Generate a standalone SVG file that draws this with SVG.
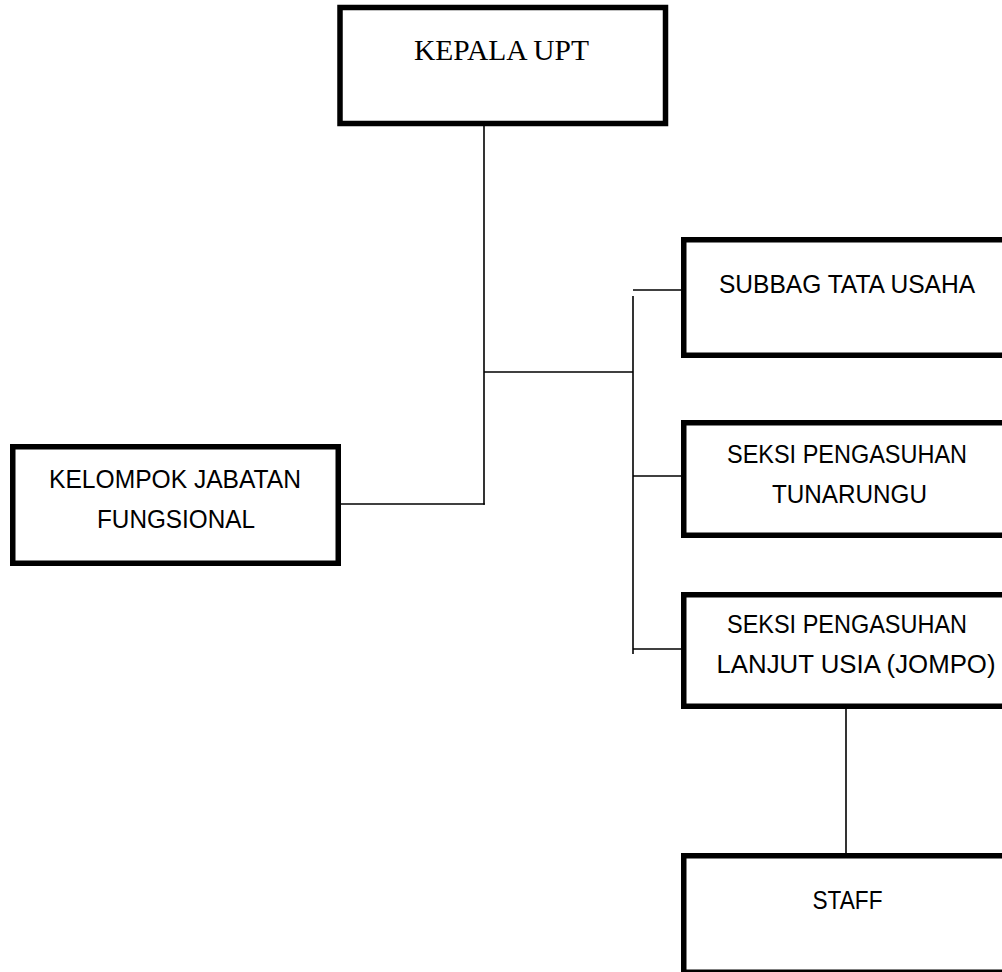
<svg xmlns="http://www.w3.org/2000/svg" width="1002" height="972" viewBox="0 0 1002 972">
<style>
.box{fill:#fff;stroke:#000;stroke-width:5.5}
.ln{stroke:#000;stroke-width:1.6;fill:none}
.sans{font-family:"Liberation Sans",Arial,sans-serif;font-size:25px;fill:#000;text-anchor:middle}
.serif{font-family:"Liberation Serif","Times New Roman",serif;font-size:29.5px;fill:#000;text-anchor:middle}
</style>
<rect width="1002" height="972" fill="#fff"/>
<g id="connectors">
<line class="ln" x1="484" y1="126" x2="484" y2="504.8"/>
<line class="ln" x1="341" y1="504" x2="484.8" y2="504"/>
<line class="ln" x1="484" y1="372" x2="633" y2="372"/>
<line class="ln" x1="633" y1="296" x2="633" y2="654"/>
<line class="ln" x1="633" y1="290" x2="681" y2="290"/>
<line class="ln" x1="633" y1="476" x2="681" y2="476"/>
<line class="ln" x1="633" y1="649" x2="681" y2="649"/>
<line class="ln" x1="846" y1="709" x2="846" y2="853"/>
</g>
<g id="kepala-upt">
<rect class="box" x="340" y="7.5" width="325.5" height="116"/>
<text class="serif" x="501.5" y="60">KEPALA UPT</text>
</g>
<g id="kelompok-jabatan-fungsional">
<rect class="box" x="12.75" y="446.75" width="325.5" height="116.5"/>
<text class="sans" x="175" y="488" textLength="252" lengthAdjust="spacingAndGlyphs">KELOMPOK JABATAN</text>
<text class="sans" x="176" y="528" textLength="158" lengthAdjust="spacingAndGlyphs">FUNGSIONAL</text>
</g>
<g id="subbag-tata-usaha">
<rect class="box" x="683.75" y="239.75" width="325.5" height="115.5"/>
<text class="sans" x="847" y="293" textLength="256" lengthAdjust="spacingAndGlyphs">SUBBAG TATA USAHA</text>
</g>
<g id="seksi-tunarungu">
<rect class="box" x="683.75" y="422.75" width="325.5" height="112.5"/>
<text class="sans" x="847" y="463" textLength="240" lengthAdjust="spacingAndGlyphs">SEKSI PENGASUHAN</text>
<text class="sans" x="849.5" y="503" textLength="155" lengthAdjust="spacingAndGlyphs">TUNARUNGU</text>
</g>
<g id="seksi-jompo">
<rect class="box" x="683.75" y="594.75" width="325.5" height="111.5"/>
<text class="sans" x="847" y="633" textLength="240" lengthAdjust="spacingAndGlyphs">SEKSI PENGASUHAN</text>
<text class="sans" x="856" y="673" textLength="279" lengthAdjust="spacingAndGlyphs">LANJUT USIA (JOMPO)</text>
</g>
<g id="staff">
<rect class="box" x="683.75" y="855.75" width="325.5" height="116.5"/>
<text class="sans" x="847.5" y="909" textLength="70" lengthAdjust="spacingAndGlyphs">STAFF</text>
</g>
</svg>
